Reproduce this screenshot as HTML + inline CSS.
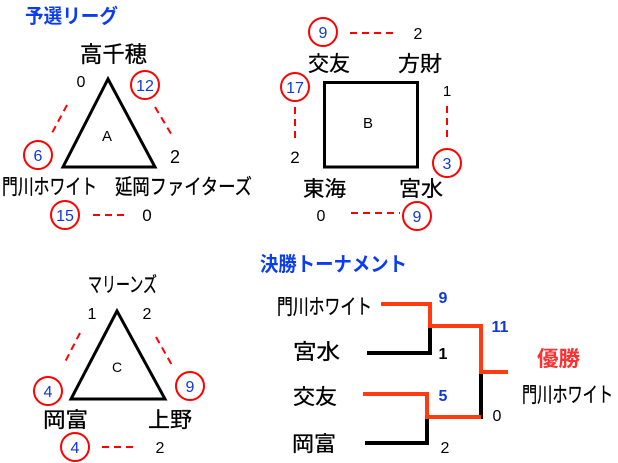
<!DOCTYPE html>
<html><head><meta charset="utf-8"><style>
html,body{margin:0;padding:0;background:#fff;}
svg{display:block;}
text{font-family:"Liberation Sans","Noto Sans CJK JP",sans-serif;}
.j{font-family:"Noto Sans CJK JP","Liberation Sans",sans-serif;font-size:21px;fill:#000;stroke:#000;stroke-width:0.3;}
.n{font-size:16px;fill:#000;text-anchor:middle;}
.b{font-size:16px;fill:#1038d8;text-anchor:middle;}
.c{fill:#fff;stroke:#f00;stroke-width:2;}
.d{stroke:#f00;stroke-width:2;stroke-dasharray:7 5;fill:none;}
</style></head><body>
<svg width="618" height="463" viewBox="0 0 618 463" xmlns="http://www.w3.org/2000/svg">
<!-- Title -->
<text x="25" y="23" class="j" style="fill:#0a3cf0;stroke:none;font-size:20px;font-weight:bold" textLength="93" lengthAdjust="spacingAndGlyphs">予選リーグ</text>

<!-- Group A -->
<polygon points="108,79 63,167 155,167" fill="none" stroke="#000" stroke-width="3" stroke-linejoin="miter"/>
<text x="107" y="141" class="n" style="font-size:15px">A</text>
<text x="80" y="62" class="j" style="font-size:22px" textLength="67" lengthAdjust="spacingAndGlyphs">高千穂</text>
<text x="81" y="87" class="n">0</text>
<circle cx="145" cy="85" r="14" class="c"/><text x="145" y="91" class="b">12</text>
<line x1="67" y1="105" x2="52" y2="133" class="d"/>
<line x1="155" y1="107" x2="173" y2="137" class="d"/>
<circle cx="38" cy="155" r="14" class="c"/><text x="38" y="161" class="b">6</text>
<text x="175" y="163" class="n" style="font-size:18px">2</text>
<text x="2" y="194" class="j" textLength="95" lengthAdjust="spacingAndGlyphs">門川ホワイト</text>
<text x="115" y="194" class="j" textLength="137" lengthAdjust="spacingAndGlyphs">延岡ファイターズ</text>
<circle cx="65" cy="215" r="14" class="c"/><text x="65" y="221" class="b">15</text>
<line x1="93" y1="215" x2="128" y2="215" class="d"/>
<text x="147" y="221" class="n" style="font-size:17px">0</text>

<!-- Group B -->
<circle cx="323" cy="32" r="14" class="c"/><text x="323" y="38" class="b">9</text>
<line x1="350" y1="33" x2="397" y2="33" class="d"/>
<text x="418" y="39" class="n">2</text>
<text x="308" y="71" class="j" textLength="42" lengthAdjust="spacingAndGlyphs">交友</text>
<text x="398" y="71" class="j" textLength="44" lengthAdjust="spacingAndGlyphs">方財</text>
<rect x="324.5" y="82.5" width="93" height="84.5" fill="none" stroke="#000" stroke-width="3"/>
<text x="368" y="128" class="n" style="font-size:15px">B</text>
<circle cx="295" cy="87" r="14" class="c"/><text x="295" y="93" class="b">17</text>
<line x1="295" y1="107" x2="295" y2="140" class="d"/>
<text x="295" y="163" class="n" style="font-size:17px">2</text>
<text x="447" y="96" class="n" style="font-size:15px">1</text>
<line x1="447" y1="106" x2="447" y2="140" class="d"/>
<circle cx="447" cy="163" r="14" class="c"/><text x="447" y="169" class="b">3</text>
<text x="303" y="196" class="j" textLength="43" lengthAdjust="spacingAndGlyphs">東海</text>
<text x="399" y="196" class="j" textLength="44" lengthAdjust="spacingAndGlyphs">宮水</text>
<text x="321" y="221" class="n">0</text>
<line x1="351" y1="213" x2="400" y2="213" class="d"/>
<circle cx="417" cy="216" r="14" class="c"/><text x="417" y="222" class="b">9</text>

<!-- Group C -->
<text x="88" y="292" class="j" textLength="69" lengthAdjust="spacingAndGlyphs">マリーンズ</text>
<polygon points="117,311 71,399 165,399" fill="none" stroke="#000" stroke-width="3"/>
<text x="92" y="319" class="n">1</text>
<text x="147" y="319" class="n">2</text>
<text x="117" y="372" class="n" style="font-size:14px">C</text>
<line x1="80" y1="333" x2="65" y2="362" class="d"/>
<line x1="156" y1="337" x2="173" y2="367" class="d"/>
<circle cx="48" cy="391" r="14" class="c"/><text x="48" y="397" class="b">4</text>
<circle cx="190" cy="386" r="14" class="c"/><text x="190" y="392" class="b">9</text>
<text x="43" y="427" class="j" textLength="45" lengthAdjust="spacingAndGlyphs">岡富</text>
<text x="148" y="427" class="j" textLength="44" lengthAdjust="spacingAndGlyphs">上野</text>
<circle cx="75" cy="447" r="14" class="c"/><text x="75" y="453" class="b">4</text>
<line x1="102" y1="447" x2="137" y2="447" class="d"/>
<text x="160" y="453" class="n">2</text>

<!-- Tournament -->
<text x="260" y="271" class="j" style="fill:#0a3cf0;stroke:none;font-size:20px;font-weight:bold" textLength="147" lengthAdjust="spacingAndGlyphs">決勝トーナメント</text>
<text x="277" y="314" class="j" textLength="95" lengthAdjust="spacingAndGlyphs">門川ホワイト</text>
<text x="293" y="359" class="j" textLength="47" lengthAdjust="spacingAndGlyphs">宮水</text>
<text x="293" y="404" class="j" textLength="44" lengthAdjust="spacingAndGlyphs">交友</text>
<text x="292" y="451" class="j" textLength="44" lengthAdjust="spacingAndGlyphs">岡富</text>

<path d="M367,353 H430 V326" fill="none" stroke="#000" stroke-width="4"/>
<path d="M365,443 H427 V417" fill="none" stroke="#000" stroke-width="4"/>
<line x1="481" y1="372" x2="481" y2="419" stroke="#000" stroke-width="4"/>
<path d="M381,304 H430 V326 H481 V372 H508" fill="none" stroke="#ff3b0f" stroke-width="4"/>
<path d="M363,394 H427 V417 H481" fill="none" stroke="#ff3b0f" stroke-width="4"/>

<text x="443" y="303" class="b" style="font-weight:bold">9</text>
<text x="443" y="359" class="n" style="font-weight:bold">1</text>
<text x="500" y="332" class="b" style="font-weight:bold">11</text>
<text x="443" y="401" class="b" style="font-weight:bold">5</text>
<text x="497" y="421" class="n">0</text>
<text x="445" y="453" class="n">2</text>

<text x="537" y="366" class="j" style="fill:#ff3030;stroke:none;font-weight:bold" textLength="43" lengthAdjust="spacingAndGlyphs">優勝</text>
<text x="522" y="402" class="j" textLength="91" lengthAdjust="spacingAndGlyphs">門川ホワイト</text>
</svg>
</body></html>
